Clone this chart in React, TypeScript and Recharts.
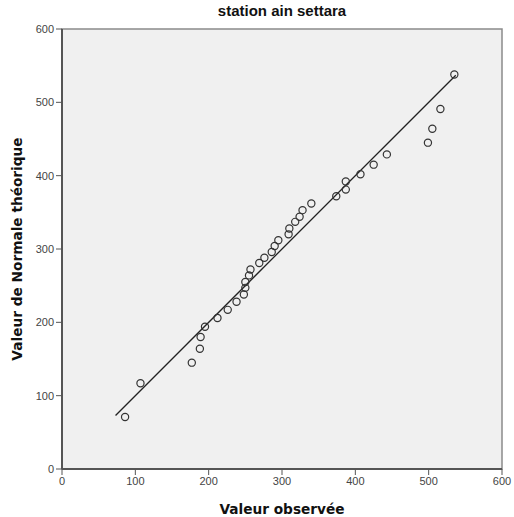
import React from 'react';
import { ScatterChart, Scatter, XAxis, YAxis, ReferenceLine, ReferenceArea, Label } from 'recharts';

// Q-Q plot values
const observed = [
  86, 107, 177, 188, 189, 195, 212, 226, 238, 248, 250, 250, 255, 257, 269, 276, 286, 290,
  295, 309, 310, 318, 324, 328, 340, 374, 387, 387, 407, 425, 443, 499, 505, 516, 535,
];
const theoretical = [
  71, 117, 145, 164, 180, 194, 206, 217, 228, 238, 247, 255, 264, 272, 281, 288, 296, 304,
  312, 320, 328, 337, 344, 353, 362, 372, 381, 392, 402, 415, 429, 445, 464, 491, 538,
];
const axisTicks = [0, 100, 200, 300, 400, 500, 600];
const lineStart = 73;
const lineEnd = 537;

const points = observed.map((x, i) => ({ x, y: theoretical[i] }));

const font = "'Liberation Sans', Arial, sans-serif";
const labelFont = "'DejaVu Sans', Verdana, sans-serif";

const Ring = (props: any) => (
  <circle cx={props.cx} cy={props.cy} r={3.6} fill="none" stroke="#333" strokeWidth={1.2} />
);

const App: React.FC = () => {
  return (
    <div style={{ position: 'absolute', left: 0, top: 0, width: 514, height: 517, background: '#fff' }}>
      <div
        style={{
          position: 'absolute', left: 62, width: 440, top: 2, textAlign: 'center',
          fontFamily: font, fontWeight: 'bold', fontSize: 15, color: '#111',
        }}
      >
        station ain settara
      </div>
      <ScatterChart width={514} height={517} margin={{ top: 29, right: 12, left: 0, bottom: 0 }}>
        <ReferenceArea x1={0} x2={600} y1={0} y2={600} fill="#F0F0F0" fillOpacity={1} stroke="#8a8a8a" strokeWidth={1.5} />
        <XAxis
          type="number" dataKey="x" domain={[0, 600]} ticks={axisTicks} height={48}
          tickSize={6} tickMargin={2}
          tick={{ fontSize: 11, fill: '#444', fontFamily: font }}
          tickLine={{ stroke: '#555' }} axisLine={{ stroke: '#555', strokeWidth: 2 }}
        >
          <Label
            value="Valeur observée" position="insideBottom" offset={3}
            style={{ fontFamily: labelFont, fontWeight: 'bold', fontSize: 13.7, fill: '#111' }}
          />
        </XAxis>
        <YAxis
          type="number" dataKey="y" domain={[0, 600]} ticks={axisTicks} width={62}
          tickSize={6} tickMargin={2}
          tick={{ fontSize: 11, fill: '#444', fontFamily: font }}
          tickLine={{ stroke: '#555' }} axisLine={{ stroke: '#555', strokeWidth: 2 }}
        >
          <Label
            value="Valeur de Normale théorique" angle={-90} position="center" dx={-14}
            style={{ fontFamily: labelFont, fontWeight: 'bold', fontSize: 13.7, fill: '#111' }}
          />
        </YAxis>
        <ReferenceLine
          segment={[{ x: lineStart, y: lineStart }, { x: lineEnd, y: lineEnd }]}
          stroke="#222" strokeWidth={1.3}
        />
        <Scatter data={points} shape={Ring} isAnimationActive={false} />
      </ScatterChart>
    </div>
  );
};

export default App;
